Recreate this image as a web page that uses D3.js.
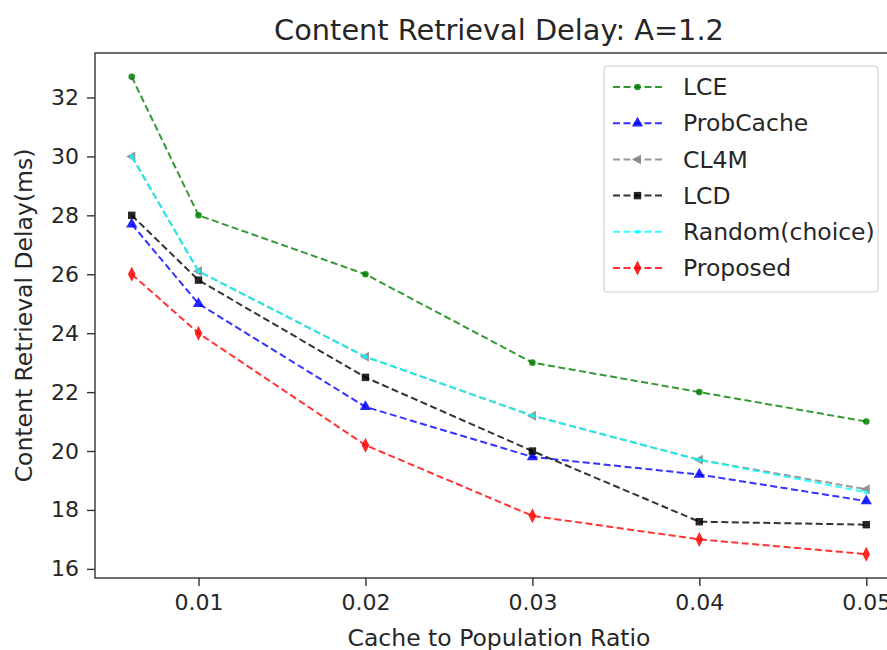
<!DOCTYPE html>
<html>
<head>
<meta charset="utf-8">
<script src="https://cdnjs.cloudflare.com/ajax/libs/d3/7.8.5/d3.min.js"></script>
<style>
  body { margin: 0; background: #fff; }
  svg text { font-family: "DejaVu Sans", sans-serif; fill: #262626; }
</style>
</head>
<body>
<div id="chart"></div>
<script>
// data
var ratios = [0.006, 0.01, 0.02, 0.03, 0.04, 0.05];
var xTicks = [0.01, 0.02, 0.03, 0.04, 0.05];
var yTicks = [16, 18, 20, 22, 24, 26, 28, 30, 32];
var lce       = [32.7, 28.0, 26.0, 23.0, 22.0, 21.0];
var probCache = [27.7, 25.0, 21.5, 19.8, 19.2, 18.3];
var cl4m      = [30.0, 26.1, 23.2, 21.2, 19.7, 18.7];
var lcd       = [28.0, 25.8, 22.5, 20.0, 17.6, 17.5];
var randomCh  = [30.0, 26.1, 23.2, 21.2, 19.7, 18.6];
var proposed  = [26.0, 24.0, 20.2, 17.8, 17.0, 16.5];

var series = [
  { name: "LCE", values: lce, color: "green", marker: "pentagon" },
  { name: "ProbCache", values: probCache, color: "blue", marker: "triangle" },
  { name: "CL4M", values: cl4m, color: "gray", marker: "left" },
  { name: "LCD", values: lcd, color: "black", marker: "square" },
  { name: "Random(choice)", values: randomCh, color: "cyan", marker: "dot" },
  { name: "Proposed", values: proposed, color: "red", marker: "diamond" }
];

var W = 887, H = 650;
var mLeft = 95, mRight = 903, mTop = 53, mBottom = 578;

var svg = d3.select("#chart").append("svg").attr("width", W).attr("height", H);

var x = d3.scaleLinear().domain([0.0038, 0.0522]).range([mLeft, mRight]);
var y = d3.scaleLinear().domain([15.69, 33.51]).range([mBottom, mTop]);

// axes
var xAxis = svg.append("g").attr("transform", "translate(0," + mBottom + ")")
  .call(d3.axisBottom(x).tickValues(xTicks).tickFormat(d3.format(".2f")).tickSize(8).tickPadding(8));
var yAxis = svg.append("g").attr("transform", "translate(" + mLeft + ",0)")
  .call(d3.axisLeft(y).tickValues(yTicks).tickSize(8).tickPadding(8));
[xAxis, yAxis].forEach(function (g) {
  g.select(".domain").remove();
  g.selectAll("line").attr("stroke", "#333").attr("stroke-width", 1.4);
  g.selectAll("text").style("font-size", "22px").attr("fill", "#262626");
});

// frame
svg.append("rect").attr("x", mLeft).attr("y", mTop)
  .attr("width", mRight - mLeft).attr("height", mBottom - mTop)
  .attr("fill", "none").attr("stroke", "#333").attr("stroke-width", 1.4);

function markerPath(type) {
  if (type === "pentagon") return d3.symbol(d3.symbolCircle, 34)();
  if (type === "triangle") return d3.symbol(d3.symbolTriangle, 55)();
  if (type === "square") return d3.symbol(d3.symbolSquare, 55)();
  if (type === "dot") return d3.symbol(d3.symbolCircle, 14)();
  if (type === "left") return "M-5.5,0L3.5,-5L3.5,5Z";
  if (type === "diamond") return "M0,-7.5L3.8,0L0,7.5L-3.8,0Z";
  return d3.symbol(d3.symbolCircle, 30)();
}

var line = d3.line().x(function (d) { return x(d[0]); }).y(function (d) { return y(d[1]); });

series.forEach(function (s) {
  var pts = ratios.map(function (r, i) { return [r, s.values[i]]; });
  var g = svg.append("g");
  g.append("path").datum(pts).attr("d", line)
    .attr("fill", "none").attr("stroke", s.color).attr("stroke-width", 2)
    .attr("stroke-dasharray", "7,3.5").attr("opacity", 0.8);
  g.selectAll("path.m").data(pts).enter().append("path").attr("class", "m")
    .attr("transform", function (d) { return "translate(" + x(d[0]) + "," + y(d[1]) + ")"; })
    .attr("d", markerPath(s.marker))
    .attr("fill", s.color).attr("opacity", 0.85);
});

// legend
var lg = svg.append("g");
lg.append("rect").attr("x", 604).attr("y", 66).attr("width", 274).attr("height", 226)
  .attr("rx", 3).attr("fill", "#fff").attr("fill-opacity", 0.8)
  .attr("stroke", "#ccc").attr("stroke-width", 1);
series.forEach(function (s, i) {
  var yy = 87 + i * 36.2;
  lg.append("line").attr("x1", 613).attr("x2", 662).attr("y1", yy).attr("y2", yy)
    .attr("stroke", s.color).attr("stroke-width", 2).attr("stroke-dasharray", "7,3.5").attr("opacity", 0.8);
  lg.append("path").attr("transform", "translate(637.5," + yy + ")")
    .attr("d", markerPath(s.marker)).attr("fill", s.color).attr("opacity", 0.85);
  lg.append("text").attr("x", 683).attr("y", yy).attr("dy", "0.35em")
    .style("font-size", "23.5px").text(s.name);
});

// title and labels
svg.append("text").attr("x", (mLeft + mRight) / 2).attr("y", 40).attr("text-anchor", "middle")
  .style("font-size", "28.8px").text("Content Retrieval Delay: A=1.2");
svg.append("text").attr("x", (mLeft + mRight) / 2).attr("y", 646).attr("text-anchor", "middle")
  .style("font-size", "23.5px").text("Cache to Population Ratio");
svg.append("text").attr("transform", "translate(32," + (mTop + mBottom) / 2 + ") rotate(-90)")
  .attr("text-anchor", "middle").style("font-size", "23.5px").text("Content Retrieval Delay(ms)");
</script>
</body>
</html>
